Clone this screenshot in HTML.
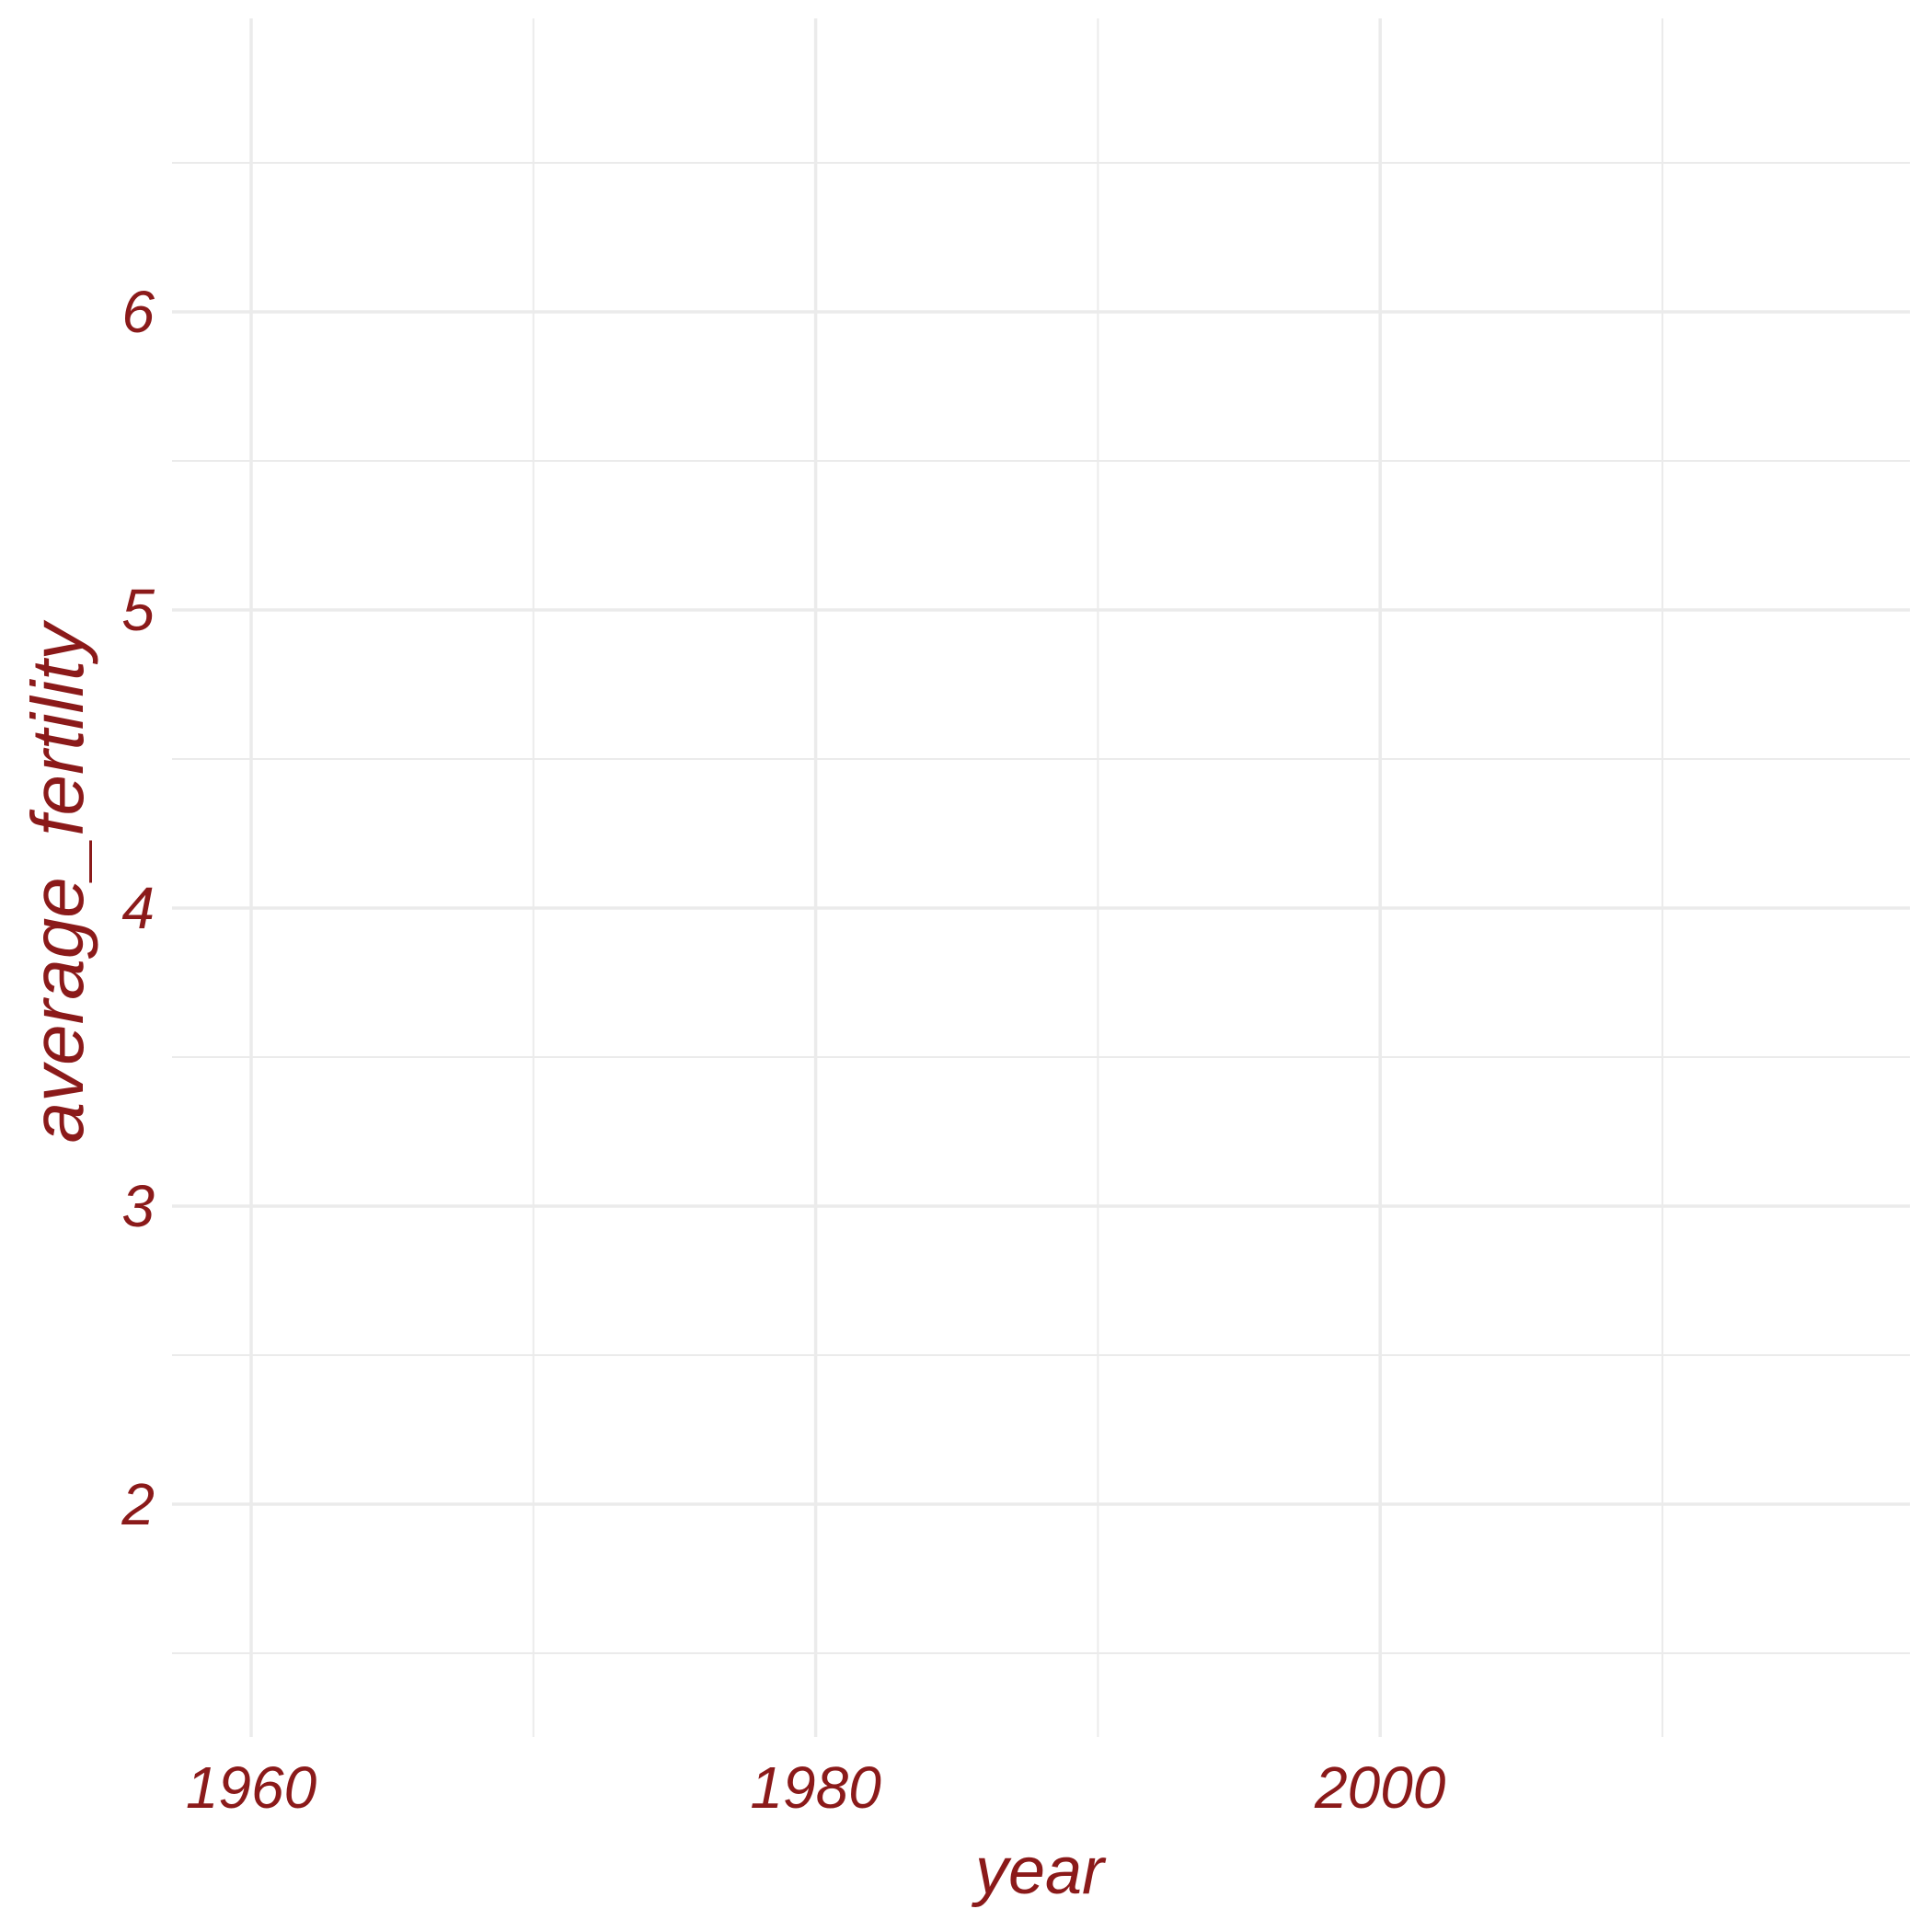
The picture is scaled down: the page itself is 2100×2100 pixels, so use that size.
<!DOCTYPE html>
<html><head><meta charset="utf-8"><style>
html,body{margin:0;padding:0;background:#fff;}
svg{display:block;}
text{font-family:"Liberation Sans",sans-serif;fill:#8b1a1a;}
</style></head><body>
<svg id="chart" width="2100" height="2100" xmlns="http://www.w3.org/2000/svg">
<rect x="0" y="0" width="2100" height="2100" fill="#fff"/>
<g id="grid"></g>
<g id="labels"></g>
<text x="1130" y="2058" font-size="72" text-anchor="middle" font-style="italic">year</text>
<text transform="translate(90,960) rotate(-90)" font-size="80" text-anchor="middle" font-style="italic">average_fertility</text>
</svg>
<script>
const xMajorTicks = [1960, 1980, 2000];
const xMinorTicks = [1970, 1990, 2010];
const xTickLabels = ["1960", "1980", "2000"];
const yMajorTicks = [2, 3, 4, 5, 6];
const yMinorTicks = [1.5, 2.5, 3.5, 4.5, 5.5, 6.5];
const yTickLabels = ["2", "3", "4", "5", "6"];

const plotLeft = 187, plotRight = 2076, plotTop = 20, plotBottom = 1888;
function xs(v){ return 273 + (v - 1960) * 30.68; }
function ys(v){ return 1635 - (v - 2) * 324; }
const ns = "http://www.w3.org/2000/svg";
const gridG = document.getElementById('grid');
const labelsG = document.getElementById('labels');
function gline(x1,y1,x2,y2,w,name){
  const l = document.createElementNS(ns,'line');
  l.setAttribute('x1',x1);l.setAttribute('y1',y1);l.setAttribute('x2',x2);l.setAttribute('y2',y2);
  l.setAttribute('stroke','#ebebeb');l.setAttribute('stroke-width',w);
  
  
  gridG.appendChild(l);
}
yMinorTicks.forEach(v => gline(plotLeft, ys(v), plotRight, ys(v), 2, 'y-minor-gridline'));
xMinorTicks.forEach(v => gline(xs(v), plotTop, xs(v), plotBottom, 2, 'x-minor-gridline'));
yMajorTicks.forEach(v => gline(plotLeft, ys(v), plotRight, ys(v), 3.5, 'y-major-gridline'));
xMajorTicks.forEach(v => gline(xs(v), plotTop, xs(v), plotBottom, 3.5, 'x-major-gridline'));
xMajorTicks.forEach((v,i) => {
  const t = document.createElementNS(ns,'text');
  t.setAttribute('x', xs(v)); t.setAttribute('y', 1965);
  t.setAttribute('font-size','64'); t.setAttribute('text-anchor','middle'); t.setAttribute('font-style','italic');
  t.textContent = xTickLabels[i];
  
  
  labelsG.appendChild(t);
});
yMajorTicks.forEach((v,i) => {
  const t = document.createElementNS(ns,'text');
  t.setAttribute('x', 168); t.setAttribute('y', ys(v) + 22);
  t.setAttribute('font-size','64'); t.setAttribute('text-anchor','end'); t.setAttribute('font-style','italic');
  t.textContent = yTickLabels[i];
  
  
  labelsG.appendChild(t);
});
</script>
</body></html>
